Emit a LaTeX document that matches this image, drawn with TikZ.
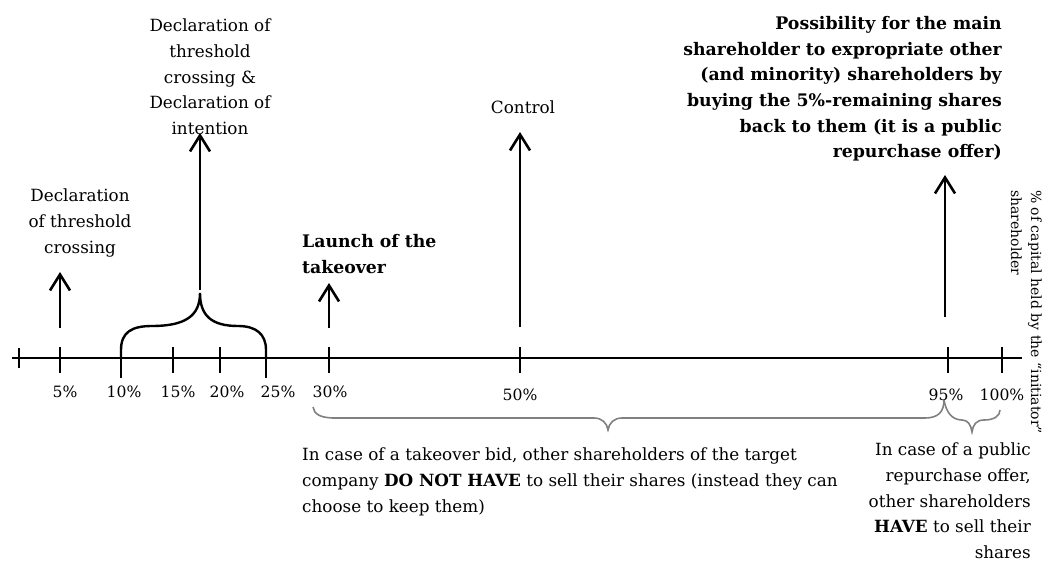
\documentclass[tikz,border=0pt]{standalone}
\usepackage{fontspec}
\setmainfont{DejaVu Serif}
\usetikzlibrary{arrows.meta}
\definecolor{bgrey}{RGB}{128,128,128}
\begin{document}
\begin{tikzpicture}[x=1pt,y=-1pt,
  axisline/.style={line width=2pt},
  tickmark/.style={line width=2.6pt},
  uparrow/.style={line width=2.6pt,-{Straight Barb[length=16pt,width=20pt,line width=2.6pt]}},
  blackbrace/.style={line width=2.4pt},
  greybrace/.style={line width=1.6pt,draw=bgrey},
  txt/.style={font=\fontsize{16.8}{25.7}\selectfont, inner sep=0pt},
  btxt/.style={font=\bfseries\fontsize{17.3}{25.6}\selectfont, inner sep=0pt},
  pct/.style={font=\fontsize{15.6}{18}\selectfont, inner sep=0pt},
  sidetxt/.style={font=\fontsize{14}{20}\selectfont, inner sep=0pt, rotate=-90, align=left}
]
\useasboundingbox (0,0) rectangle (1046,561);

% axis
\coordinate (axL) at (12,358);
\coordinate (axR) at (1022,358);
\draw[axisline] (axL) -- (axR);

% tick positions
\coordinate (t0) at (19,358);
\coordinate (t5) at (60,358);
\coordinate (t10) at (121,358);
\coordinate (t15) at (173,358);
\coordinate (t20) at (220,358);
\coordinate (t25) at (266,358);
\coordinate (t30) at (329,358);
\coordinate (t50) at (520,358);
\coordinate (t95) at (948,358);
\coordinate (t100) at (1002,358);

\draw[tickmark] ([yshift=10pt]t0) -- ([yshift=-10pt]t0);
\foreach \t in {t5,t15,t20,t30,t50,t95,t100}
  \draw[tickmark] ([yshift=11pt]\t) -- ([yshift=-15pt]\t);
\draw[tickmark] (t10) -- ([yshift=-20pt]t10);
\draw[tickmark] (t25) -- ([yshift=-20pt]t25);

% percent labels
\node[pct] (l5) at (65,392) {5\%};
\node[pct] (l10) at (124,392) {10\%};
\node[pct] (l15) at (178,392) {15\%};
\node[pct] (l20) at (227,392) {20\%};
\node[pct] (l25) at (278,392) {25\%};
\node[pct] (l30) at (330,392) {30\%};
\node[pct] (l50) at (520,395) {50\%};
\node[pct] (l95) at (946,395) {95\%};
\node[pct] (l100) at (1002,395) {100\%};

% black brace 10%-25%
\coordinate (btip) at (200,293);
\draw[blackbrace] (t10) -- (121,350) .. controls (121,332) and (132,326) .. (152,326)
  .. controls (185,326) and (200,316) .. (btip)
  .. controls (200,316) and (212,326) .. (238,326)
  .. controls (256,326) and (266,334) .. (266,350) -- (t25);

% arrows
\coordinate (a5s) at (60,328);   \coordinate (a5e) at (60,272);
\coordinate (abs) at (200,290);  \coordinate (abe) at (200,133);
\coordinate (a30s) at (329,328); \coordinate (a30e) at (329,283);
\coordinate (a50s) at (520,327); \coordinate (a50e) at (520,132);
\coordinate (a95s) at (945,317); \coordinate (a95e) at (945,175);
\draw[uparrow] (a5s) -- (a5e);
\draw[uparrow] (abs) -- (abe);
\draw[uparrow] (a30s) -- (a30e);
\draw[uparrow] (a50s) -- (a50e);
\draw[uparrow] (a95s) -- (a95e);

% texts above
\node[txt, align=center] (decl1) at (80,223) {Declaration\\of threshold\\crossing};
\node[txt, align=center] (decl2) at (210,77) {Declaration of\\threshold\\crossing \&\\Declaration of\\intention};
\node[btxt, align=left, anchor=west] (launch) at (302,254) {Launch of the\\takeover};
\node[txt] (control) at (523,107) {Control};
\node[btxt, align=right, anchor=east] (poss) at (1002,89) {Possibility for the main\\shareholder to expropriate other\\(and minority) shareholders by\\buying the 5\%-remaining shares\\back to them (it is a public\\repurchase offer)};

% side label
\node[sidetxt, anchor=north west] (side) at (1042,190) {\% of capital held by the “initiator”\\shareholder};

% grey braces
\coordinate (gL) at (313,407);
\coordinate (gtip) at (608,430);
\coordinate (gM) at (944,400);
\coordinate (gtip2) at (972,432);
\coordinate (gR) at (1000,410);
\draw[greybrace] (gL) .. controls (314,414) and (320,418) .. (335,418) -- (594,418)
  .. controls (602,418) and (607,423) .. (gtip)
  .. controls (609,423) and (614,418) .. (622,418) -- (925,418)
  .. controls (938,418) and (944,412) .. (gM);
\draw[greybrace] (gM) .. controls (946,412) and (952,420) .. (962,420)
  .. controls (968,420) and (971,425) .. (gtip2)
  .. controls (973,425) and (976,420) .. (984,420)
  .. controls (994,420) and (1000,416) .. (gR);

% texts below
\node[txt, align=left, anchor=west] (bid) at (302,482) {In case of a takeover bid, other shareholders of the target\\company \textbf{DO NOT HAVE} to sell their shares (instead they can\\choose to keep them)};
\node[txt, align=right, anchor=east] (rep) at (1031,501) {In case of a public\\repurchase offer,\\other shareholders\\\textbf{HAVE} to sell their\\shares};
\end{tikzpicture}
\end{document}
